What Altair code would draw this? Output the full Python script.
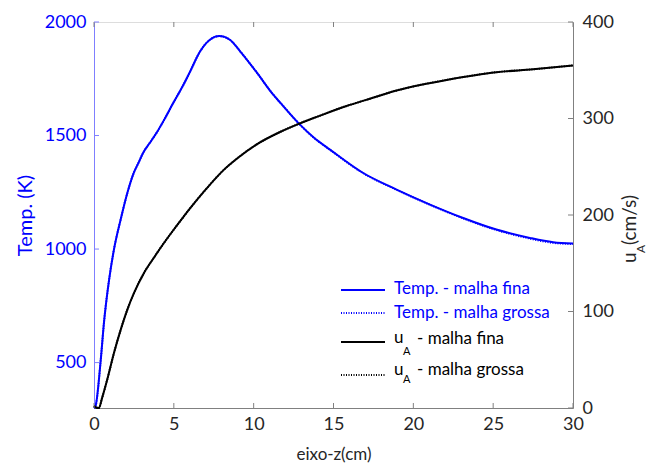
import altair as alt
import pandas as pd

# ---- data ----
z_T = [0, 0.1, 0.42, 0.63, 0.94, 1.25, 1.67, 2.1, 2.46, 2.8, 3.08, 3.5, 3.92, 4.4,
       4.96, 5.5, 6.0, 6.64, 7.26, 7.85, 8.51, 9.14, 10.17, 11.2, 11.65, 12.9, 13.8,
       14.78, 16.86, 18.95, 21.04, 23.12, 25.2, 27.3, 28.76, 30]
T_fina = [300, 310, 510, 680, 862, 998, 1130, 1250, 1330, 1382, 1424, 1468, 1512, 1570,
          1643, 1710, 1779, 1870, 1922, 1938, 1922, 1872, 1780, 1682, 1646, 1548, 1489,
          1438, 1335, 1262, 1196, 1137, 1086, 1049, 1030, 1024]
T_grossa = [300, 310, 510, 680, 862, 998, 1130, 1250, 1330, 1382, 1424, 1468, 1512, 1570,
            1643, 1710, 1779, 1870, 1922, 1938, 1922, 1872, 1780, 1682, 1646, 1548, 1488,
            1437, 1334, 1261, 1195, 1135, 1084, 1046, 1027, 1022]

z_u = [0, 0.12, 0.31, 0.5, 0.83, 1.25, 1.67, 2.09, 2.5, 3.13, 3.76, 4.38, 5.0, 5.53, 6.0,
       7.0, 8.08, 9.0, 10.17, 11.65, 12.9, 14.0, 15.82, 17.0, 18.95, 20.5, 22.08, 25.2,
       27.5, 30]
u_fina = [2, 0.5, 0, 10, 29.5, 57, 81, 102, 119, 140, 156, 171, 185, 196.5, 206.5,
          226.5, 246, 259, 273, 286, 295, 302, 313, 319, 329, 335, 340, 348, 351, 355]
u_grossa = [2, 0.5, 0, 10, 29.5, 57, 81, 102, 119, 140, 156, 171, 185, 196.5, 206.5,
            226.5, 246, 259, 273, 286, 295, 302, 313, 319, 329, 335, 340, 348, 351, 355]

x_ticks = [0, 5, 10, 15, 20, 25, 30]
T_ticks = [500, 1000, 1500, 2000]
u_ticks = [0, 100, 200, 300, 400]

leg_temp = ["Temp. - malha fina", "Temp. - malha grossa"]
leg_u_tail = ["- malha fina", "- malha grossa"]

# ---- styling ----
W, H = 479, 386
FONT = "Lato"
BLUE = "#0000ff"
LBLUE = "#7f7fff"
DARK = "#262626"
GRAY = "#808080"

dfT_f = pd.DataFrame({"z": z_T, "T": T_fina})
dfT_g = pd.DataFrame({"z": z_T, "T": T_grossa})
dfu_f = pd.DataFrame({"z": z_u, "u": u_fina})
dfu_g = pd.DataFrame({"z": z_u, "u": u_grossa})

xscale = alt.Scale(domain=[0, 30], nice=False, zero=False)
Tscale = alt.Scale(domain=[300, 2000], nice=False, zero=False)
uscale = alt.Scale(domain=[0, 400], nice=False)

x_axis = alt.Axis(values=x_ticks, ticks=False, grid=False, domainColor=GRAY, format="d",
                  labelColor=DARK, labelFontSize=18, labelPadding=7, labelFont=FONT,
                  labelFlush=False,
                  title="eixo-z(cm)", titleFont=FONT, titleFontSize=17,
                  titleFontWeight="normal", titleColor=DARK, titlePadding=13)
T_axis = alt.Axis(values=T_ticks, ticks=False, grid=False, domainColor=LBLUE, format="d",
                  labelColor=BLUE, labelFontSize=18, labelPadding=8, labelFont=FONT,
                  labelFlush=False,
                  title="Temp. (K)", titleFont=FONT, titleFontSize=20,
                  titleFontWeight="normal", titleColor=BLUE, titlePadding=9)
u_axis = alt.Axis(orient="right", values=u_ticks, ticks=False, grid=False, format="d",
                  domainColor=GRAY, labelColor=DARK, labelFontSize=18, labelPadding=9,
                  labelFont=FONT, labelFlush=False, title=None)

X = alt.X("z:Q", scale=xscale, axis=x_axis)

temp_g = alt.Chart(dfT_g).mark_line(color=BLUE, strokeWidth=2, strokeDash=[1, 1.5],
                                    interpolate="monotone").encode(
    x=X, y=alt.Y("T:Q", scale=Tscale, axis=T_axis))
temp_f = alt.Chart(dfT_f).mark_line(color=BLUE, strokeWidth=2, interpolate="monotone").encode(
    x=X, y=alt.Y("T:Q", scale=Tscale, axis=T_axis))
T_tk = alt.Chart(pd.DataFrame({"T": T_ticks})).mark_rule(color=LBLUE).encode(
    y=alt.Y("T:Q", scale=Tscale, axis=T_axis), x=alt.value(0), x2=alt.value(5))
temp_group = alt.layer(temp_g, temp_f, T_tk)

u_g = alt.Chart(dfu_g).mark_line(color="black", strokeWidth=2, strokeDash=[1, 1.5],
                                 interpolate="monotone").encode(
    x=X, y=alt.Y("u:Q", scale=uscale, axis=u_axis))
u_f = alt.Chart(dfu_f).mark_line(color="black", strokeWidth=2, interpolate="monotone").encode(
    x=X, y=alt.Y("u:Q", scale=uscale, axis=u_axis))
u_tk = alt.Chart(pd.DataFrame({"u": u_ticks})).mark_rule(color=GRAY).encode(
    y=alt.Y("u:Q", scale=uscale, axis=u_axis), x=alt.value(W - 5), x2=alt.value(W))
u_group = alt.layer(u_g, u_f, u_tk)

dfx = pd.DataFrame({"z": x_ticks})
x_tk_bot = alt.Chart(dfx).mark_rule(color=GRAY).encode(x=X, y=alt.value(H - 5), y2=alt.value(H))
x_tk_top = alt.Chart(dfx).mark_rule(color=GRAY).encode(x=X, y=alt.value(0), y2=alt.value(5))

# ---- text helper ----
def txt(s, x, y, size, color=DARK, angle=0, baseline="middle", align="left"):
    return alt.Chart(pd.DataFrame({"t": [s]})).mark_text(
        font=FONT, fontSize=size, color=color, angle=angle, baseline=baseline, align=align
    ).encode(text="t:N", x=alt.value(x), y=alt.value(y))

# right axis title with subscript
rt_u = txt("u", 542, 241, 19, angle=270, baseline="alphabetic")
rt_A = txt("A", 551, 231, 12, angle=270, baseline="alphabetic")
rt_c = txt("(cm/s)", 542, 223, 19, angle=270, baseline="alphabetic")

# ---- manual legend ----
def leg_line(y, color, dash):
    kw = dict(color=color, strokeWidth=2)
    if dash:
        kw["strokeDash"] = [1, 1.5]
    return alt.Chart(pd.DataFrame({"a": [0]})).mark_rule(**kw).encode(
        x=alt.value(247), x2=alt.value(291), y=alt.value(y))

legend = [
    leg_line(268, BLUE, False), txt(leg_temp[0], 300, 267, 17, BLUE),
    leg_line(291, BLUE, True), txt(leg_temp[1], 300, 291, 17, BLUE),
    leg_line(320, "black", False), txt("u", 300, 316, 17, "black"),
    txt("A", 309, 330, 11, "black"), txt(leg_u_tail[0], 323, 317, 17, "black"),
    leg_line(353, "black", True), txt("u", 300, 348, 17, "black"),
    txt("A", 309, 358, 11, "black"), txt(leg_u_tail[1], 323, 348, 17, "black"),
]

chart = alt.layer(
    temp_group, u_group, x_tk_bot, x_tk_top, rt_u, rt_A, rt_c, *legend
).resolve_scale(y="independent").properties(
    width=W, height=H,
    autosize=alt.AutoSizeParams(type="none"),
    padding={"left": 94, "top": 22, "right": 74, "bottom": 59},
    background="white",
).configure_view(stroke=GRAY, strokeWidth=1).configure(font=FONT)

chart.save("out.html", embed_options={"renderer": "svg", "actions": False})
